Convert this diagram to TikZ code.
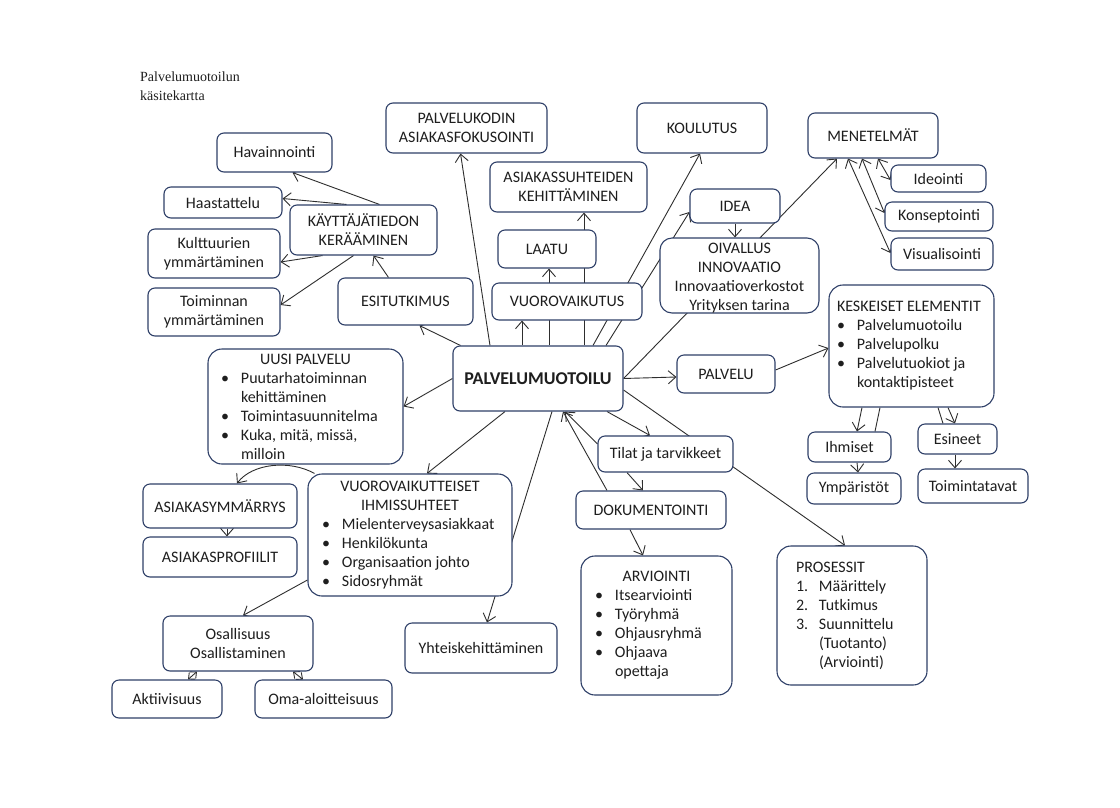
\documentclass[tikz,border=0pt]{standalone}
\usepackage{fontspec}
\setmainfont{Carlito}
\newfontfamily\titlefont{Liberation Serif}
\usetikzlibrary{arrows.meta}
\pgfdeclarelayer{paper}
\pgfdeclarelayer{bg}
\pgfsetlayers{paper,bg,main}
\definecolor{boxline}{HTML}{2F4068}
\definecolor{ink}{HTML}{1E1E1E}
\definecolor{wirecol}{HTML}{2E2E2E}
% list helpers for the bulleted boxes
\newlength\lw
\setlength\lw{20pt}
\newcommand\ctr[1]{\noindent\hbox to\hsize{\hss#1\hss}}
\newcommand\litem[2]{\par\noindent\makebox[\lw][l]{#1}#2}
\newcommand\lcont[1]{\par\noindent\hspace*{\lw}#1}
\tikzset{
  box/.style={draw=boxline, line width=1.1pt, rounded corners=7pt, fill=white,
    text=ink, font=\fontsize{16}{19}\selectfont, align=center, inner sep=0pt},
  sz/.style 2 args={minimum width=#1, minimum height=#2},
  listbox/.style={box, align=flush left, rounded corners=14pt, inner ysep=0pt},
  boxtext/.style={text=ink, font=\fontsize{16}{19}\selectfont, align=center, inner sep=0pt},
  barb/.tip={Straight Barb[length=7.5pt,width=13pt]},
  smallbarb/.tip={Straight Barb[length=5pt,width=9pt]},
  link/.style={draw=wirecol, line width=0.9pt, -barb},
  both/.style={draw=wirecol, line width=0.9pt, barb-barb},
  shortboth/.style={draw=wirecol, line width=0.9pt, smallbarb-smallbarb},
  plain/.style={draw=wirecol, line width=0.9pt},
}
\begin{document}
\begin{tikzpicture}[x=1pt, y=-1pt]
\useasboundingbox (0,0) rectangle (1120,807);
\begin{pgfonlayer}{paper}
\fill[white] (0,0) rectangle (1120,807);
\end{pgfonlayer}

% title
\node[anchor=north west, align=left, inner sep=0pt, text=ink,
  font=\titlefont\fontsize{14}{19}\selectfont] (title) at (140,72) {Palvelumuotoilun\\käsitekartta};

% centre
\node[box, sz={170}{65}, font=\bfseries\fontsize{18}{20}\selectfont] (pm) at (538,378.5) {PALVELUMUOTOILU};

% upper left group
\node[box, sz={115}{39}] (hav) at (274.5,152.5) {Havainnointi};
\node[box, sz={118}{31}] (haa) at (223,202.5) {Haastattelu};
\node[box, sz={147}{50}] (kt) at (363.5,230) {KÄYTTÄJÄTIEDON\\KERÄÄMINEN};
\node[box, sz={132}{49}] (kul) at (214,253.5) {Kulttuurien\\ymmärtäminen};
\node[box, sz={132}{48}] (toi) at (214,312) {Toiminnan\\ymmärtäminen};
\node[box, sz={135}{47}] (esi) at (405.5,301.5) {ESITUTKIMUS};

% upper middle
\node[box, sz={161}{50}] (pk) at (466.5,128) {PALVELUKODIN\\ASIAKASFOKUSOINTI};
\node[box, sz={157}{50}] (as) at (568.5,187) {ASIAKASSUHTEIDEN\\KEHITTÄMINEN};
\node[box, sz={130}{50}] (kou) at (702,128) {KOULUTUS};
\node[box, sz={98}{38}] (laa) at (547,249) {LAATU};
\node[box, sz={150}{37}] (vv) at (567,301.5) {VUOROVAIKUTUS};
\node[box, sz={90}{34}] (idea) at (735,206) {IDEA};
\node[box, sz={159}{75}, rounded corners=12pt] (oiv) at (739.5,275.5) {};
\node[boxtext] (oivtext) at ([yshift=-3pt]oiv.center) {OIVALLUS\\INNOVAATIO\\Innovaatioverkostot\\Yrityksen tarina};

% methods
\node[box, sz={130}{45}] (men) at (873,135.5) {MENETELMÄT};
\node[box, sz={95}{27}] (ide) at (938.5,178.5) {Ideointi};
\node[box, sz={108}{29}] (kon) at (939,216.5) {Konseptointi};
\node[box, sz={102}{32}] (vis) at (942,254) {Visualisointi};

% service elements
\node[box, sz={98}{38}] (pal) at (726,374) {PALVELU};
\node[listbox, text width=149, inner xsep=8, minimum height=122] (ke) at (911.5,346)
  {\noindent KESKEISET ELEMENTIT\litem{\textbullet}{Palvelumuotoilu}\litem{\textbullet}{Palvelupolku}\litem{\textbullet}{Palvelutuokiot ja}\lcont{kontaktipisteet}};
\node[box, sz={83}{30}] (ih) at (849.5,447) {Ihmiset};
\node[box, sz={94}{31}] (ym) at (854,488.5) {Ympäristöt};
\node[box, sz={79}{30}] (es) at (957.5,439) {Esineet};
\node[box, sz={110}{34}] (to) at (973,486) {Toimintatavat};

% lower right
\node[box, sz={135}{36}] (ti) at (665.5,454) {Tilat ja tarvikkeet};
\node[box, sz={150}{38}] (dok) at (651,510) {DOKUMENTOINTI};
\node[listbox, text width=123, inner xsep=14, minimum height=139] (ar) at (656.5,625.5)
  {\ctr{ARVIOINTI}\litem{\textbullet}{Itsearviointi}\litem{\textbullet}{Työryhmä}\litem{\textbullet}{Ohjausryhmä}\litem{\textbullet}{Ohjaava}\lcont{opettaja}};
\node[listbox, text width=112, inner xsep=19, minimum height=139] (pr) at (852,615.5)
  {\setlength\lw{23pt}\noindent PROSESSIT\litem{1.}{Määrittely}\litem{2.}{Tutkimus}\litem{3.}{Suunnittelu}\lcont{(Tuotanto)}\lcont{(Arviointi)}};

% left and lower left
\node[listbox, text width=169, inner xsep=13, minimum height=115] (uu) at (305.5,406.5)
  {\ctr{UUSI PALVELU}\litem{\textbullet}{Puutarhatoiminnan}\lcont{kehittäminen}\litem{\textbullet}{Toimintasuunnitelma}\litem{\textbullet}{Kuka, mitä, missä,}\lcont{milloin}};
\node[box, sz={154}{44}] (asm) at (220,506) {ASIAKASYMMÄRRYS};
\node[box, sz={154}{40}] (asp) at (220,557) {ASIAKASPROFIILIT};
\node[listbox, text width=176, inner xsep=14, minimum height=122] (vi) at (410,535)
  {\ctr{VUOROVAIKUTTEISET}\par\ctr{IHMISSUHTEET}\litem{\textbullet}{Mielenterveysasiakkaat}\litem{\textbullet}{Henkilökunta}\litem{\textbullet}{Organisaation johto}\litem{\textbullet}{Sidosryhmät}};
\node[box, sz={150}{55}] (os) at (238,643.5) {Osallisuus\\Osallistaminen};
\node[box, sz={152}{50}] (yh) at (481,648) {Yhteiskehittäminen};
\node[box, sz={110}{38}] (ak) at (167,699) {Aktiivisuus};
\node[box, sz={137}{38}] (oma) at (323.5,699) {Oma-aloitteisuus};

% connectors, kept behind the boxes
\begin{pgfonlayer}{bg}
\draw[link] ([xshift=16pt]kt.north) -- ([xshift=18pt]hav.south);
\draw[link] ([xshift=-17pt]kt.north) -- ([yshift=4pt]haa.east);
\draw[link] ([xshift=-41pt]kt.south) -- ([yshift=-8.5pt]kul.east);
\draw[link] ([xshift=-10pt]kt.south) -- ([yshift=7pt]toi.east);
\draw[link] ([xshift=-17pt]esi.north) -- ([xshift=10pt]kt.south);
\draw[link] ([xshift=8pt]pm.north west) -- ([xshift=14pt]esi.south);
\draw[link] ([xshift=-48pt]pm.north) -- ([xshift=-6pt]pk.south);
\draw[link] ([xshift=-16pt]pm.north) -- ([xshift=-45pt]vv.south);
\draw[link] ([xshift=11pt]pm.north) -- ([xshift=2pt]laa.south);
\draw[link] ([xshift=46pt]pm.north) -- ([xshift=15.5pt]as.south);
\draw[link] ([xshift=55pt]pm.north) -- ([xshift=-2pt]kou.south);
\draw[link] ([xshift=68pt]pm.north) -- ([yshift=-6pt]idea.west);
\draw[link] (pm.east) -- ([xshift=-36pt]men.south);
\draw[link] (idea.south) -- ([xshift=-4.5pt]oiv.north);
\draw[both] ([xshift=5pt]men.south) -- ([yshift=-1.5pt]ide.west);
\draw[both] ([xshift=-11pt]men.south) -- ([yshift=3.5pt]kon.west);
\draw[both] ([xshift=-25pt]men.south) -- ([yshift=1pt]vis.west);
\draw[link] (pm.east) -- ([yshift=-3pt]pal.west);
\draw[link] ([yshift=4pt]pal.east) -- ([yshift=-2pt]ke.west);
\draw[link] ([xshift=-49.5pt]ke.south) -- ([xshift=7.5pt]ih.north);
\draw[plain] ([xshift=25.5pt]ih.north) -- ([xshift=-31.5pt]ke.south);
\draw[link] ([xshift=36.5pt]ke.south) -- ([xshift=-2.5pt]es.north);
\draw[plain] ([xshift=26.5pt]ke.south) -- ([xshift=-14.5pt]es.north);
\draw[link] ([xshift=7.5pt]ih.south) -- ([xshift=4pt]ym.north);
\draw[link] ([xshift=-2.5pt]es.south) -- ([xshift=-18pt]to.north);
\draw[link] ([xshift=69pt]pm.south) -- ([xshift=-15.5pt]ti.north);
\draw[link] ([yshift=-11.5pt]pm.east) -- ([xshift=-7pt]pr.north);
\draw[link] ([yshift=10pt]ti.west) -- ([xshift=27pt]pm.south);
\draw[link] ([xshift=-44pt]dok.north) -- ([xshift=25pt]pm.south);
\draw[link] ([xshift=-38.5pt]ti.south) -- ([xshift=-8pt]dok.north);
\draw[link] ([xshift=-21pt]dok.south) -- ([xshift=-13.5pt]ar.north);
\draw[link] (pm.west) -- (uu.east);
\draw[link] ([xshift=-33pt]pm.south) -- ([xshift=17pt]vi.north);
\draw[link] ([xshift=14pt]pm.south) -- ([xshift=6pt]yh.north);
\draw[link] ([xshift=7pt]vi.north west) .. controls +(-25,-14) and +(15,-20) .. ([xshift=17pt]asm.north);
\draw[link] ([xshift=7pt]asm.south) -- ([xshift=7pt]asp.north);
\draw[link] ([yshift=-45pt]vi.west) -- ([xshift=5pt]os.north);
\draw[shortboth] ([xshift=-41pt]os.south) -- ([xshift=21pt]ak.north);
\draw[shortboth] ([xshift=55pt]os.south) -- ([xshift=-20.5pt]oma.north);
\end{pgfonlayer}
\end{tikzpicture}
\end{document}
